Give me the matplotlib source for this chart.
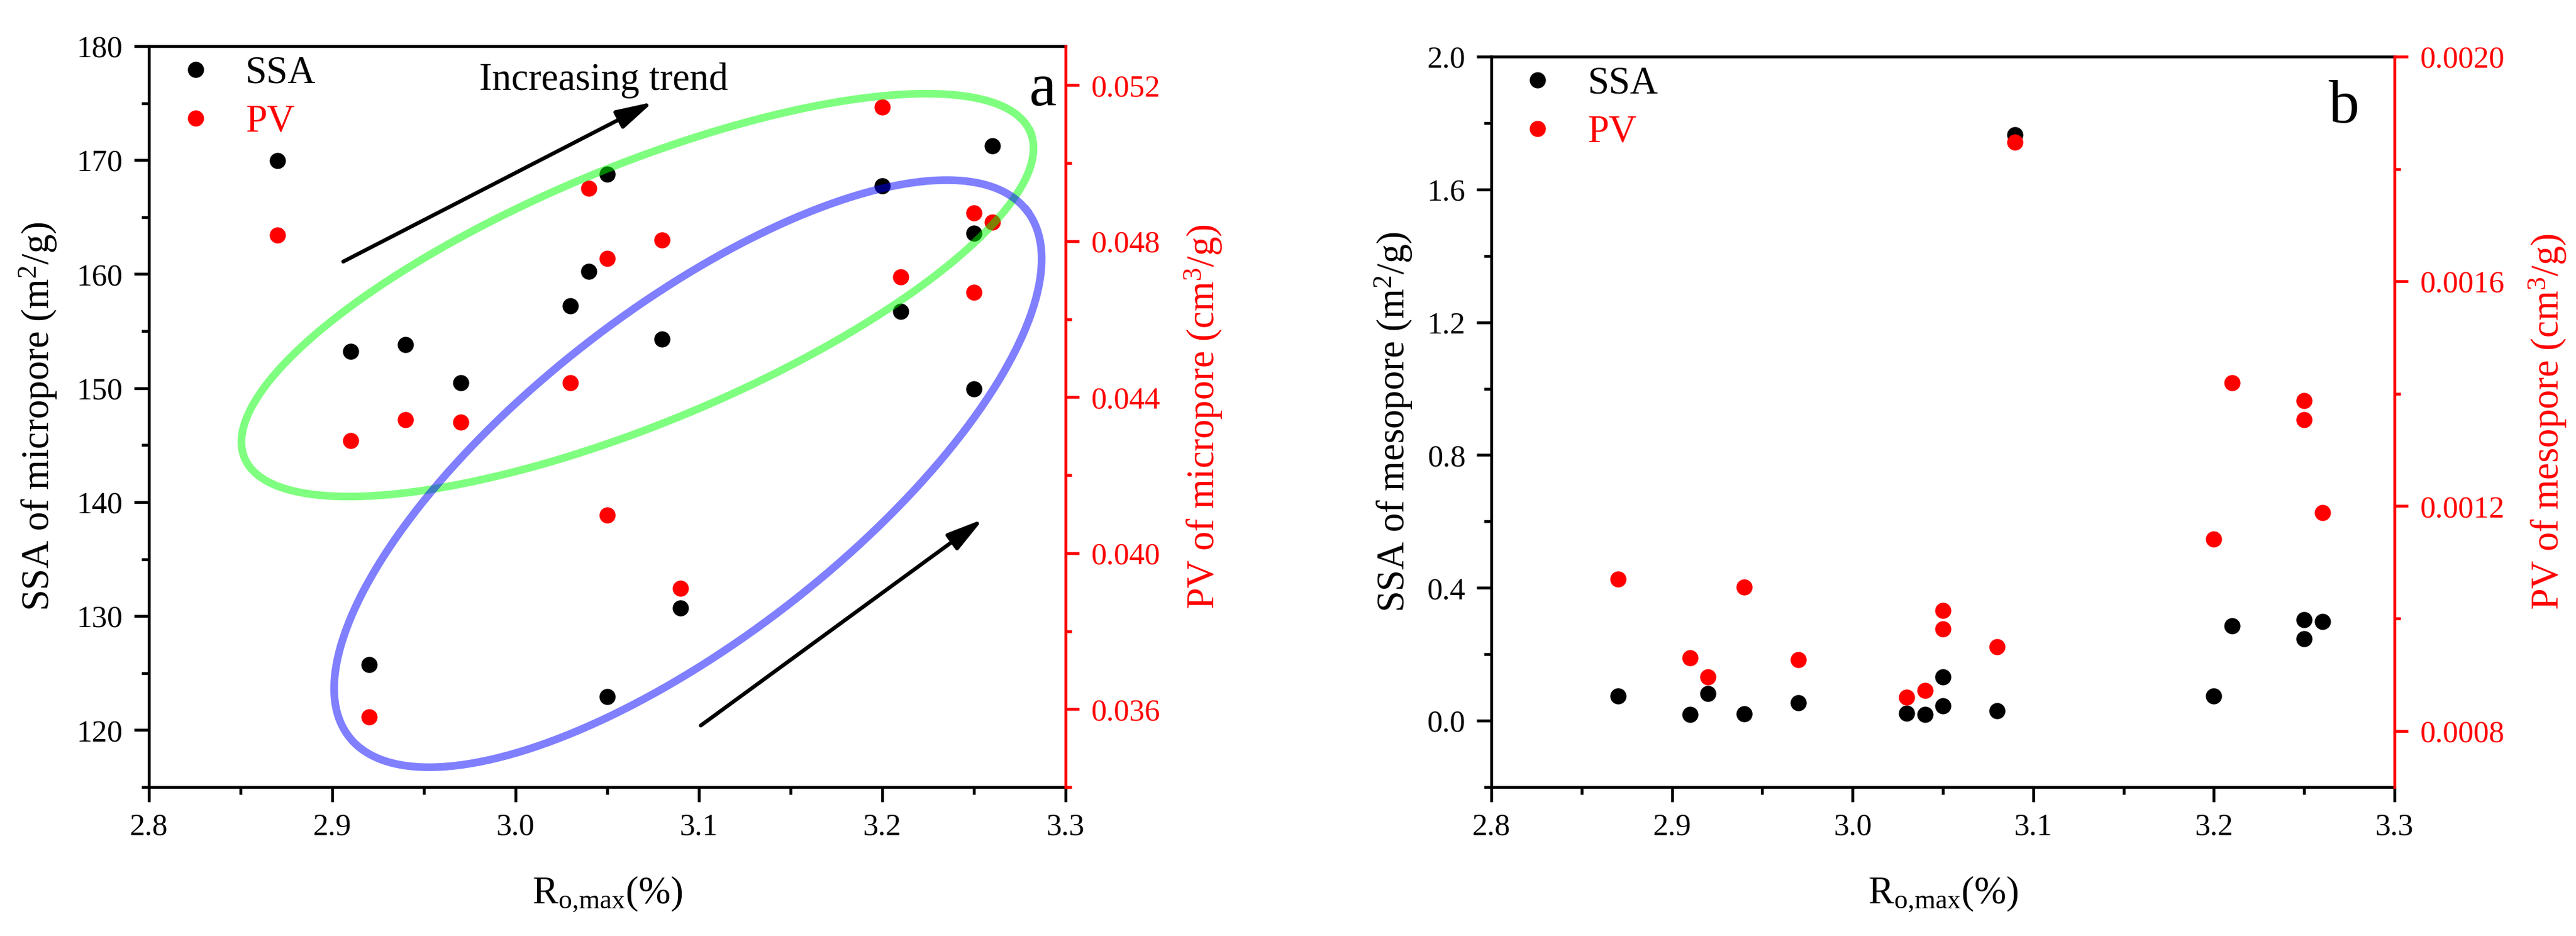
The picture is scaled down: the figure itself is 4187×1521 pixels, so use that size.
import matplotlib.pyplot as plt
import numpy as np
from matplotlib.ticker import MultipleLocator, FormatStrFormatter

plt.rcParams['font.family'] = ['Liberation Serif', 'DejaVu Serif']
plt.rcParams['mathtext.fontset'] = 'custom'
plt.rcParams['mathtext.rm'] = 'Liberation Serif'
plt.rcParams['mathtext.it'] = 'Liberation Serif:italic'

# 数据 (a) 微孔
ro_a = [2.87, 2.91, 2.92, 2.94, 2.97, 3.03, 3.04, 3.05, 3.05, 3.08, 3.09, 3.20, 3.21, 3.25, 3.25, 3.26]
ssa_micro = [169.97, 153.2, 125.76, 153.79, 150.49, 157.22, 160.23, 168.79, 122.96, 154.30, 130.71,
             167.76, 156.71, 163.57, 149.94, 171.24]
pv_micro = [0.04815, 0.04289, 0.0358, 0.04342, 0.04336, 0.04437, 0.04936, 0.04756, 0.04098, 0.04803,
            0.03909, 0.05144, 0.04709, 0.04873, 0.04668, 0.04848]

# 数据 (b) 介孔
ro_b = [2.87, 2.91, 2.92, 2.94, 2.97, 3.03, 3.04, 3.05, 3.05, 3.08, 3.09, 3.20, 3.21, 3.25, 3.25, 3.26]
ssa_meso = [0.074, 0.018, 0.081, 0.020, 0.054, 0.023, 0.018, 0.045, 0.132, 0.029, 1.764, 0.074, 0.285,
            0.305, 0.247, 0.299]
pv_meso = [0.00107, 0.00093, 0.000896, 0.001056, 0.000927, 0.00086, 0.000872, 0.001014, 0.000981,
           0.00095, 0.001848, 0.001141, 0.001419, 0.001388, 0.001354, 0.001189]

W, H = 4187, 1521
fig = plt.figure(figsize=(W / 300, H / 300), dpi=300)

LW = 1.1
TICK_FS = 12
LABEL_FS = 15


def make_panel(rect, x, ssa, pv, ylim1, ystep1, ylim2, ystep2, fmt1, fmt2, ylab1, ylab2, tag):
    ax1 = fig.add_axes(rect)
    ax2 = ax1.twinx()

    ax1.plot(x, ssa, 'o', color='black', ms=6.3, mew=0, label='SSA')
    ax2.plot(x, pv, 'o', color='red', ms=6.3, mew=0, label='PV')

    ax1.set_xlim(2.8, 3.3)
    ax1.set_ylim(*ylim1)
    ax2.set_ylim(*ylim2)
    ax1.xaxis.set_major_locator(MultipleLocator(0.1))
    ax1.xaxis.set_minor_locator(MultipleLocator(0.05))
    ax1.xaxis.set_major_formatter(FormatStrFormatter('%.1f'))
    ax1.yaxis.set_major_locator(MultipleLocator(ystep1))
    ax1.yaxis.set_minor_locator(MultipleLocator(ystep1 / 2))
    ax1.yaxis.set_major_formatter(FormatStrFormatter(fmt1))
    ax2.yaxis.set_major_locator(MultipleLocator(ystep2))
    ax2.yaxis.set_minor_locator(MultipleLocator(ystep2 / 2))
    ax2.yaxis.set_major_formatter(FormatStrFormatter(fmt2))

    # 边框
    for s in ['left', 'bottom', 'top']:
        ax1.spines[s].set_linewidth(LW)
        ax1.spines[s].set_color('black')
        ax2.spines[s].set_visible(False)
    ax1.spines['right'].set_visible(False)
    ax2.spines['right'].set_color('red')
    ax2.spines['right'].set_linewidth(LW)

    ax1.tick_params(which='major', direction='out', length=5.8, width=LW, labelsize=TICK_FS, pad=4.3)
    ax1.tick_params(which='minor', direction='out', length=2.9, width=LW)
    ax1.tick_params(which='both', top=False, right=False)
    ax2.tick_params(which='major', direction='out', length=5.3, width=LW, labelsize=TICK_FS, pad=4.5,
                    colors='red')
    ax2.tick_params(which='minor', direction='out', length=2.5, width=LW, colors='red')

    ax1.set_xlabel(r'R$_{\mathrm{o{,}max}}$(%)', fontsize=LABEL_FS, labelpad=13)
    ax1.set_ylabel(ylab1, fontsize=LABEL_FS, labelpad=7)
    ax2.set_ylabel(ylab2, fontsize=LABEL_FS, color='red', labelpad=9)

    h1, l1 = ax1.get_legend_handles_labels()
    h2, l2 = ax2.get_legend_handles_labels()
    leg = ax2.legend(h1 + h2, l1 + l2, loc='upper left', bbox_to_anchor=(0.03, 0.987), frameon=False,
                     fontsize=LABEL_FS, borderaxespad=0, borderpad=0, handlelength=1.0,
                     handletextpad=0.8, labelspacing=0.34)
    leg.get_texts()[1].set_color('red')

    ax2.text(0.99, 0.92, tag, transform=ax2.transAxes, fontsize=24, ha='right', va='baseline')
    return ax1, ax2


ax1a, ax2a = make_panel([242 / W, 242 / H, 1490 / W, 1204 / H], ro_a, ssa_micro, pv_micro,
                        (115, 180), 10, (0.034, 0.053), 0.004, '%d', '%.3f',
                        r'SSA of micropore (m$^{2}$/g)', r'PV of micropore (cm$^{3}$/g)', 'a')
ax1b, ax2b = make_panel([2424 / W, 242 / H, 1468 / W, 1187 / H], ro_b, ssa_meso, pv_meso,
                        (-0.2, 2.0), 0.4, (0.0007, 0.0020), 0.0004, '%.1f', '%.4f',
                        r'SSA of mesopore (m$^{2}$/g)', r'PV of mesopore (cm$^{3}$/g)', 'b')
ax2b.texts[0].set_position((0.961, 0.91))
ax1b.yaxis.labelpad = 5


# 椭圆圈 (以像素为单位画, 再换算到坐标轴比例)
def draw_ellipse(ax, cx, cy, a, b, angle, color):
    bw, bh = ax.bbox.width, ax.bbox.height
    t = np.linspace(0, 2 * np.pi, 400)
    th = np.deg2rad(angle)
    px = cx * bw + a * bw * np.cos(t) * np.cos(th) - b * bw * np.sin(t) * np.sin(th)
    py = cy * bh + a * bw * np.cos(t) * np.sin(th) + b * bw * np.sin(t) * np.cos(th)
    ax.plot(px / bw, py / bh, color=color, alpha=0.5, lw=3.0, transform=ax.transAxes, zorder=5,
            clip_on=False)


draw_ellipse(ax2a, 0.533, 0.664, 0.464, 0.140, 22.5, '#00ff00')
draw_ellipse(ax2a, 0.588, 0.423, 0.468, 0.180, 37.8, '#0000ff')

arrow = dict(arrowstyle='-|>,head_length=1.2,head_width=0.32', color='black', lw=1.5,
             mutation_scale=10, shrinkA=0, shrinkB=0)
ax1a.annotate('', xy=(3.075, 175.1), xytext=(2.906, 161.1), arrowprops=arrow, zorder=6)
ax1a.annotate('', xy=(3.255, 138.5), xytext=(3.101, 120.4), arrowprops=arrow, zorder=6)
ax1a.text(3.048, 177.0, 'Increasing trend', fontsize=LABEL_FS, ha='center', va='center')

plt.savefig('out.png', dpi=300)
